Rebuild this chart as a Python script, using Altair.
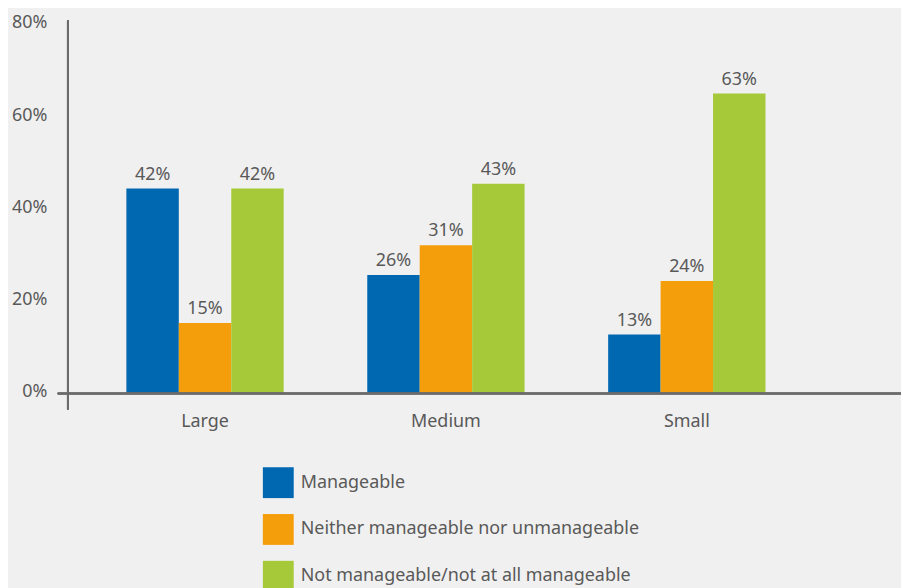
import altair as alt
import pandas as pd

groups = ["Large", "Medium", "Small"]
series = [
    "Manageable",
    "Neither manageable nor unmanageable",
    "Not manageable/not at all manageable",
]
# bar heights as drawn (percent)
manageable = [44.5, 25.7, 12.8]
neither = [15.3, 32.2, 24.4]
not_manageable = [44.5, 45.5, 65.1]
# printed labels
manageable_lbl = ["42%", "26%", "13%"]
neither_lbl = ["15%", "31%", "24%"]
not_manageable_lbl = ["42%", "43%", "63%"]

colors = ["#0067b1", "#f59e0b", "#a6c93a"]
y_ticks = [0, 20, 40, 60, 80]

rows = []
for s, vals, lbls in zip(series, [manageable, neither, not_manageable],
                         [manageable_lbl, neither_lbl, not_manageable_lbl]):
    for g, v, l in zip(groups, vals, lbls):
        rows.append({"group": g, "series": s, "value": v, "label": l})
df = pd.DataFrame(rows)

FONT = "Noto Sans"
TXT = "#595959"
LINE = "#6b6b6b"
W, H = 837, 375

base = alt.Chart(df).encode(
    x=alt.X("group:N", sort=groups,
            scale=alt.Scale(paddingInner=0.347, paddingOuter=0.403, align=0.302),
            axis=alt.Axis(title=None, labelAngle=0, domain=False, ticks=False,
                          labelPadding=19, labelFontSize=18, labelColor=TXT,
                          labelFont=FONT)),
    xOffset=alt.XOffset("series:N", sort=series,
                        scale=alt.Scale(paddingInner=0, paddingOuter=0)),
)

bars = base.mark_bar().encode(
    y=alt.Y("value:Q", scale=alt.Scale(domain=[0, 81], nice=False),
            axis=alt.Axis(values=y_ticks, labelExpr="datum.value + '%'",
                          domain=False, ticks=False, grid=False, labelPadding=21,
                          title=None, labelFontSize=18, labelColor=TXT,
                          labelFont=FONT, labelOffset=-2)),
    color=alt.Color("series:N", sort=series,
                    scale=alt.Scale(domain=series, range=colors),
                    legend=alt.Legend(orient="none", legendX=196, legendY=449,
                                      title=None, symbolType="square",
                                      symbolSize=961, symbolStrokeWidth=0,
                                      symbolOpacity=1,
                                      rowPadding=16, labelFontSize=18,
                                      labelColor=TXT, labelFont=FONT,
                                      labelOffset=7, padding=0, labelLimit=600,
                                      direction="vertical")),
)

text = base.mark_text(dy=-9, baseline="alphabetic", fontSize=18, color=TXT,
                      font=FONT).encode(
    y=alt.Y("value:Q"),
    text="label:N",
)

baseline = alt.Chart(df).mark_rule(color=LINE, strokeWidth=1.5).encode(
    y=alt.datum(0), x=alt.value(-10), x2=alt.value(W)
)
yaxis = alt.Chart(df).mark_rule(color=LINE, strokeWidth=1.5).encode(
    x=alt.value(0), y=alt.value(0), y2=alt.value(H + 16)
)

chart = alt.layer(bars, text, baseline, yaxis).properties(
    width=W, height=H,
    padding={"left": 60, "top": 11, "right": 0, "bottom": 194},
    autosize="none",
).configure(background="#f0f0f0").configure_view(stroke=None)

chart.save("out.html", embed_options={"renderer": "svg", "actions": False})
